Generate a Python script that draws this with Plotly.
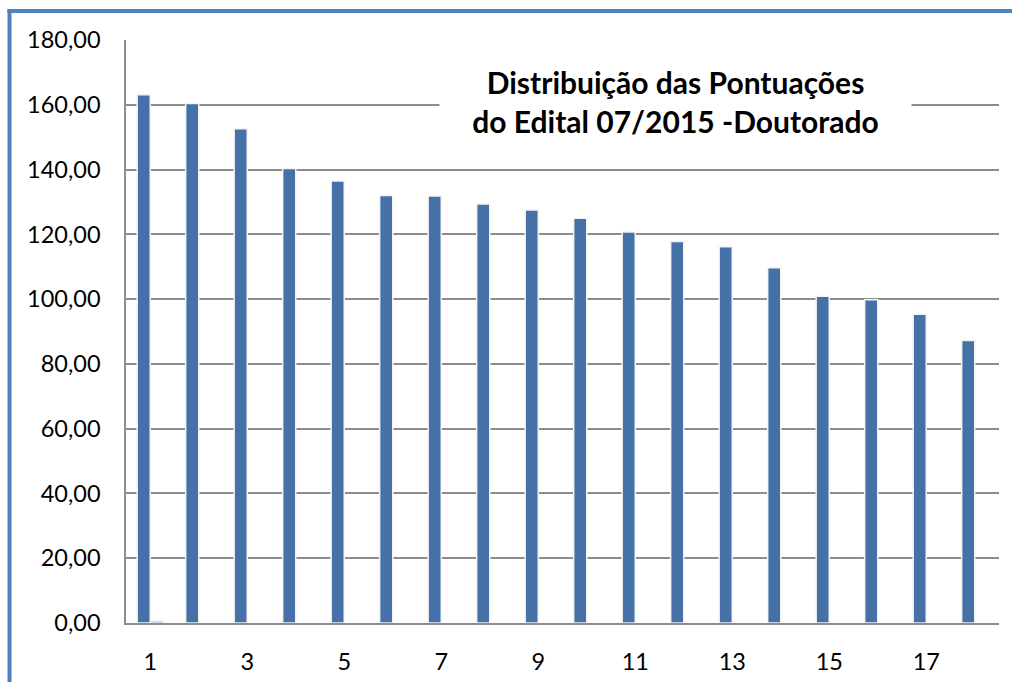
import plotly.graph_objects as go

categories = list(range(1, 19))
pontuacao = [163.1, 160.4, 152.6, 140.3, 136.5, 132.0, 131.8, 129.4, 127.5,
             125.0, 120.7, 117.8, 116.2, 109.7, 100.9, 99.8, 95.3, 87.2]
serie2 = [0.6] + [None] * 17
x_ticks = [1, 3, 5, 7, 9, 11, 13, 15, 17]
y_ticks = [0, 20, 40, 60, 80, 100, 120, 140, 160, 180]
title_text = "Distribuição das Pontuações<br>do Edital 07/2015 -Doutorado"

FONT = "Lato, 'Open Sans', sans-serif"

fig = go.Figure()
fig.add_trace(go.Bar(x=categories, y=pontuacao, marker=dict(color="#4571A8",
                     line=dict(color="#F4F4F4", width=1.5)), showlegend=False))
fig.add_trace(go.Bar(x=categories, y=serie2, marker=dict(color="#A9BCD6",
                     line=dict(color="#F4F4F4", width=1)), showlegend=False))

L, R, T, B = 126, 15, 40, 59
W, H = 1014, 682
pw, ph = W - L - R, H - T - B

def px(xp):
    return (xp - L) / pw

def py(yp):
    return (H - B - yp) / ph

fig.update_layout(
    width=W, height=H, autosize=False,
    margin=dict(l=L, r=R, t=T, b=B, pad=0),
    paper_bgcolor="white", plot_bgcolor="white",
    barmode="group", bargap=0.46, bargroupgap=0,
    separators=",.",
    font=dict(family=FONT, color="black"),
    xaxis=dict(range=[0.5, 18.5], tickvals=x_ticks, showgrid=False,
               showline=True, linecolor="#8C8C8C", linewidth=1.5,
               ticks="", tickfont=dict(size=23.5), ticklabelstandoff=17,
               zeroline=False, fixedrange=True, automargin=False),
    yaxis=dict(range=[0, 180], tickvals=y_ticks, tickformat=".2f",
               showgrid=True, gridcolor="#8C8C8C", gridwidth=1.5,
               showline=True, linecolor="#8C8C8C", linewidth=1.5,
               ticks="", tickfont=dict(size=23.5), ticklabelstandoff=19,
               zeroline=False, fixedrange=True, automargin=False),
    annotations=[dict(text="<b>" + title_text + "</b>", xref="paper", yref="paper",
                      x=px(675), y=py(101), xanchor="center", yanchor="middle",
                      showarrow=False, bgcolor="white", width=465, borderpad=3,
                      font=dict(size=30, family=FONT, color="black"),
                      align="center")],
    shapes=[
        dict(type="line", xref="paper", yref="paper", x0=px(9.5), x1=px(9.5),
             y0=py(9), y1=py(700), line=dict(color="#4F81BD", width=4)),
        dict(type="line", xref="paper", yref="paper", x0=px(7.5), x1=px(1012),
             y0=py(11), y1=py(11), line=dict(color="#4F81BD", width=4)),
    ],
)

fig.write_html("out.html",
               config={"displayModeBar": False, "responsive": False},
               post_script="document.body.style.margin='0px';document.body.style.overflow='hidden';")
